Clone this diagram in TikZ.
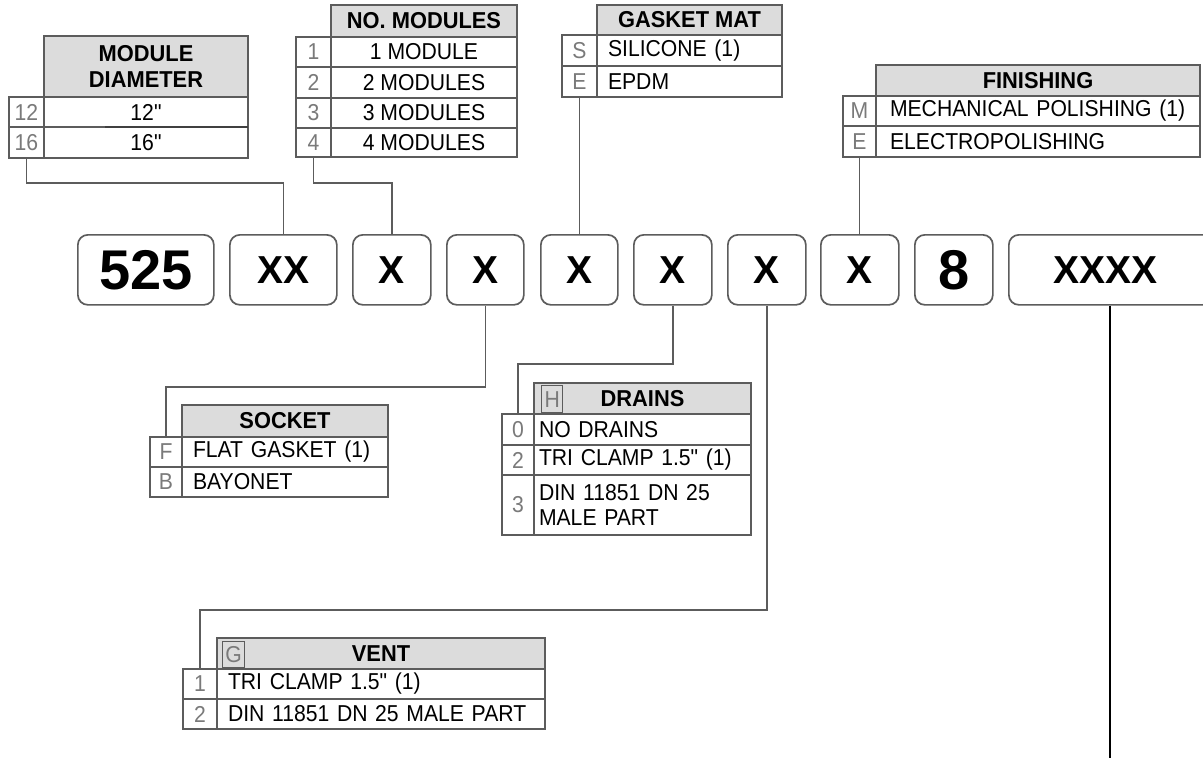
\documentclass[tikz,border=0pt]{standalone}
\usepackage{fontspec}
\setmainfont{Liberation Sans}
\newfontfamily\txfam[FakeStretch=0.92]{Liberation Sans}
\newfontfamily\hdfam[FakeStretch=0.95]{Liberation Sans}
\definecolor{lg}{HTML}{5C5C5C}
\definecolor{ng}{HTML}{7A7A7A}
\definecolor{hg}{HTML}{DCDCDC}
\definecolor{dk}{HTML}{404040}
\newcommand\txf{\txfam\fontsize{23}{25}\selectfont}
\newcommand\hdf{\hdfam\bfseries\fontsize{23}{26}\selectfont}
\newcommand\codef{\bfseries\fontsize{39}{42}\selectfont}
\newcommand\bigf{\bfseries\fontsize{56}{60}\selectfont}
\tikzset{
  ln/.style={draw=lg, line width=1.7pt},
  cellbase/.style={draw=lg, line width=1.5pt, inner sep=0pt, outer sep=0pt, anchor=north west},
  numc/.style={cellbase, text=ng, font=\txf, align=center},
  hd/.style={cellbase, fill=hg, font=\hdf, align=center},
  tc/.style={cellbase, font=\txf, align=center},
  tl/.style={cellbase, font=\txf, align=left},
  lbox/.style={draw=lg, line width=1.3pt, inner sep=0pt, anchor=north west, text=ng, font=\txf},
  code/.style={draw=lg, line width=1.7pt, rounded corners=10pt, inner sep=0pt, anchor=north west, font=\codef, minimum height=70pt},
}
\begin{document}
\begin{tikzpicture}[x=1pt,y=-1pt]
\useasboundingbox (0,0) rectangle (1203,758);
\clip (0,0) rectangle (1203,758);
\fill[white] (0,0) rectangle (1203,758);

% ---- code boxes
\node[code, font=\bigf, minimum width=136pt] (b525) at (77,234) {525};
\node[code, minimum width=107pt] (bxx) at (229,234) {XX};
\node[code, minimum width=78pt] (x1) at (352,234) {X};
\node[code, minimum width=77pt] (x2) at (446,234) {X};
\node[code, minimum width=77pt] (x3) at (540,234) {X};
\node[code, minimum width=78pt] (x4) at (633,234) {X};
\node[code, minimum width=78pt] (x5) at (727,234) {X};
\node[code, minimum width=78pt] (x6) at (820,234) {X};
\node[code, font=\bigf, minimum width=78pt] (b8) at (914,234) {8};
\node[code, minimum width=204pt] (bxxxx) at (1008,234) {\hspace*{-10pt}XXXX};

% ---- MODULE DIAMETER
\node[hd, minimum width=204pt, minimum height=61pt] (mdh) at (44,36) {MODULE\\DIAMETER};
\node[numc, minimum width=35pt, minimum height=30pt] (md12n) at (9,97) {12};
\node[tc, minimum width=204pt, minimum height=30pt] (md12t) at (44,97) {12"};
\node[numc, minimum width=35pt, minimum height=31pt] (md16n) at (9,127) {16};
\node[tc, minimum width=204pt, minimum height=31pt] (md16t) at (44,127) {16"};
\coordinate (mdmark) at (105,127);
\draw[draw=dk, line width=2.4pt] (mdmark) -- (md12t.south east);

% ---- NO. MODULES
\node[hd, minimum width=186pt, minimum height=32pt] (nmh) at (331,5) {NO. MODULES};
\node[numc, minimum width=35pt, minimum height=30pt] (nm1n) at (296,37) {1};
\node[tc, minimum width=186pt, minimum height=30pt] (nm1t) at (331,37) {1 MODULE};
\node[numc, minimum width=35pt, minimum height=31pt] (nm2n) at (296,67) {2};
\node[tc, minimum width=186pt, minimum height=31pt] (nm2t) at (331,67) {2 MODULES};
\node[numc, minimum width=35pt, minimum height=30pt] (nm3n) at (296,98) {3};
\node[tc, minimum width=186pt, minimum height=30pt] (nm3t) at (331,98) {3 MODULES};
\node[numc, minimum width=35pt, minimum height=29pt] (nm4n) at (296,128) {4};
\node[tc, minimum width=186pt, minimum height=29pt] (nm4t) at (331,128) {4 MODULES};

% ---- GASKET MAT
\node[hd, minimum width=185pt, minimum height=30pt] (gmh) at (597,5) {GASKET MAT};
\node[numc, minimum width=35pt, minimum height=31pt] (gmSn) at (562,35) {S};
\node[tl, minimum width=185pt, minimum height=31pt, text width=163pt, inner xsep=11pt] (gmSt) at (597,35) {SILICONE (1)};
\node[numc, minimum width=35pt, minimum height=31pt] (gmEn) at (562,66) {E};
\node[tl, minimum width=185pt, minimum height=31pt, text width=163pt, inner xsep=11pt] (gmEt) at (597,66) {EPDM};

% ---- FINISHING
\node[hd, minimum width=324pt, minimum height=31pt] (fih) at (876,65) {FINISHING};
\node[numc, minimum width=33pt, minimum height=30pt] (fiMn) at (843,96) {M};
\node[tl, minimum width=324pt, minimum height=30pt, text width=310pt, inner xsep=7pt] (fiMt) at (876,96) {\hspace*{7pt}MECHANICAL POLISHING (1)};
\node[numc, minimum width=33pt, minimum height=31pt] (fiEn) at (843,126) {E};
\node[tl, minimum width=324pt, minimum height=31pt, text width=310pt, inner xsep=7pt] (fiEt) at (876,126) {\hspace*{7pt}ELECTROPOLISHING};

% ---- SOCKET
\node[hd, minimum width=206pt, minimum height=32pt] (soh) at (182,405) {SOCKET};
\node[numc, minimum width=32pt, minimum height=30pt] (soFn) at (150,437) {F};
\node[tl, minimum width=206pt, minimum height=30pt, text width=184pt, inner xsep=11pt] (soFt) at (182,437) {FLAT GASKET (1)};
\node[numc, minimum width=32pt, minimum height=30pt] (soBn) at (150,467) {B};
\node[tl, minimum width=206pt, minimum height=30pt, text width=184pt, inner xsep=11pt] (soBt) at (182,467) {BAYONET};

% ---- DRAINS
\node[hd, minimum width=217pt, minimum height=31pt] (drh) at (534,383) {DRAINS};
\node[lbox, minimum width=21pt, minimum height=27pt] (drH) at (541,385) {H};
\node[numc, minimum width=32pt, minimum height=31pt] (dr0n) at (502,414) {0};
\node[tl, minimum width=217pt, minimum height=31pt, text width=207pt, inner xsep=5pt] (dr0t) at (534,414) {NO DRAINS};
\node[numc, minimum width=32pt, minimum height=30pt] (dr2n) at (502,445) {2};
\node[tl, minimum width=217pt, minimum height=30pt, text width=207pt, inner xsep=5pt] (dr2t) at (534,445) {TRI CLAMP 1.5" (1)};
\node[numc, minimum width=32pt, minimum height=60pt] (dr3n) at (502,475) {3};
\node[tl, minimum width=217pt, minimum height=60pt, text width=207pt, inner xsep=5pt] (dr3t) at (534,475) {DIN 11851 DN 25\\MALE PART};

% ---- VENT
\node[hd, minimum width=328pt, minimum height=31pt] (veh) at (217,638) {VENT};
\node[lbox, minimum width=22pt, minimum height=26pt] (veG) at (222,641) {G};
\node[numc, minimum width=34pt, minimum height=30pt] (ve1n) at (183,669) {1};
\node[tl, minimum width=328pt, minimum height=30pt, text width=306pt, inner xsep=11pt] (ve1t) at (217,669) {TRI CLAMP 1.5" (1)};
\node[numc, minimum width=34pt, minimum height=30pt] (ve2n) at (183,699) {2};
\node[tl, minimum width=328pt, minimum height=30pt, text width=306pt, inner xsep=11pt] (ve2t) at (217,699) {DIN 11851 DN 25 MALE PART};

% ---- connectors
\draw[ln] (md16n.south) -- ++(0,25) -| (bxx.north);
\draw[ln] (nm4n.south) -- ++(0,26) -| (x1.north);
\draw[ln] (gmEn.south) -- (gmEn.south |- x3.north);
\draw[ln] (fiEn.south) -- (fiEn.south |- x6.north);
\draw[ln] (x2.south) -- ++(0,81) -| (soFn.north);
\draw[ln] (x4.south) -- ++(0,58) -| (dr0n.north);
\draw[ln] (x5.south) -- ++(0,304) -| (ve1n.north);
\coordinate (xend) at (1110,760);
\draw[black, line width=2.4pt] (bxxxx.south -| xend) -- (xend);
\end{tikzpicture}
\end{document}
